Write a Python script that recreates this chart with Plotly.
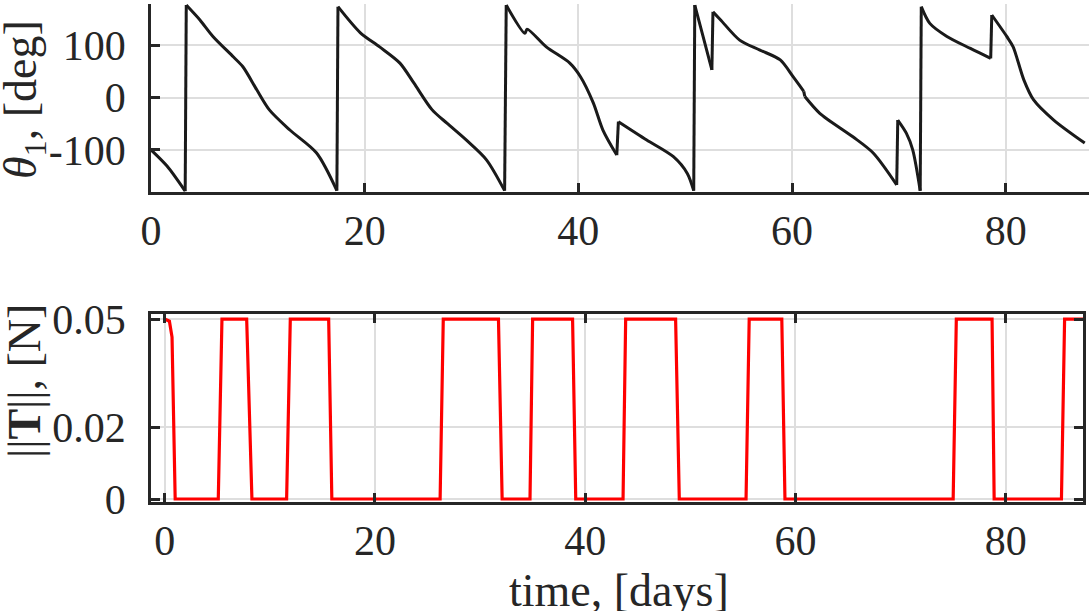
import plotly.graph_objects as go

# ---- data ----
t_theta = [0.0, 1.5, 3.2, 3.3, 4.6, 5.8, 7.7, 8.6, 9.9, 11.1, 13.0, 15.5, 17.4,
           17.5, 19.6, 21.4, 23.3, 24.6, 26.3, 27.7, 29.5, 31.4, 33.1,
           33.25, 35.0, 35.2, 37.0, 39.2, 40.2, 41.4, 42.3, 43.6,
           43.75, 46.4, 48.9, 50.2, 50.8,
           50.9, 51.6, 52.5,
           52.6, 53.3, 55.1, 57.0, 58.9, 60.1, 61.1, 61.2, 62.6, 65.7, 67.6, 69.8,
           69.9, 70.7, 71.3, 72.0,
           72.1, 72.9, 74.5, 76.7, 78.6,
           78.7, 80.1, 80.7, 81.7, 82.6, 84.5, 87.4]
theta = [-100, -131, -179, 177, 148, 117, 78, 59, 15, -24, -62, -106, -178,
         174, 124, 97, 66, 28, -23, -49, -81, -119, -178,
         177, 123, 131, 97, 66, 40, -10, -62, -110,
         -46, -81, -113, -145, -178,
         177, 123, 53,
         164, 149, 110, 91, 72, 40, 12, 2, -30, -75, -106, -167,
         -43, -68, -100, -178,
         174, 142, 117, 94, 75,
         158, 117, 97, 34, -4, -43, -87]

t_thrust = [0.0, 0.45, 0.7, 1.0, 5.1, 5.45, 7.8, 8.3, 11.6, 11.95, 15.6, 15.9,
            26.2, 26.5, 31.75, 32.1, 34.75, 35.0, 38.8, 39.1, 43.6, 43.85,
            48.6, 48.95, 55.3, 55.6, 58.7, 59.0, 75.0, 75.3, 78.7, 78.9,
            85.3, 85.6, 87.4]
thrust = [0.05, 0.0494, 0.045, 0.0, 0.0, 0.05, 0.05, 0.0, 0.0, 0.05, 0.05, 0.0,
          0.0, 0.05, 0.05, 0.0, 0.0, 0.05, 0.05, 0.0, 0.0, 0.05,
          0.05, 0.0, 0.0, 0.05, 0.05, 0.0, 0.0, 0.05, 0.05, 0.0,
          0.0, 0.05, 0.05]

x_ticks = [0, 20, 40, 60, 80]
theta_ticks = [-100, 0, 100]
theta_ticktext = ["-100", "0", "100"]
thrust_ticks = [0, 0.02, 0.05]
thrust_ticktext = ["0", "0.02", "0.05"]

W, H = 1089, 611
FONT = "Liberation Serif"
DARK = "#262626"
GRID = "#dedede"
LINE_DARK = "#1a1a1a"


def px_x(p):
    return p / W


def px_y(p):
    return 1 - p / H


# split the theta curve into continuous branches (jumps are nearly vertical)
segments = []
cur_t, cur_y = [t_theta[0]], [theta[0]]
for i in range(1, len(t_theta)):
    if t_theta[i] - t_theta[i - 1] < 0.2:
        segments.append((cur_t, cur_y))
        cur_t, cur_y = [], []
    cur_t.append(t_theta[i])
    cur_y.append(theta[i])
segments.append((cur_t, cur_y))

fig = go.Figure()
for st, sy in segments:
    fig.add_trace(go.Scatter(x=st, y=sy, mode="lines",
                             line=dict(color=LINE_DARK, width=3, shape="spline",
                                       smoothing=0.8),
                             xaxis="x", yaxis="y", showlegend=False))
# jump connectors between branches
jx, jy = [], []
for a, b in zip(segments[:-1], segments[1:]):
    jx += [a[0][-1], b[0][0], None]
    jy += [a[1][-1], b[1][0], None]
fig.add_trace(go.Scatter(x=jx, y=jy, mode="lines",
                         line=dict(color=LINE_DARK, width=3),
                         xaxis="x", yaxis="y", showlegend=False))

fig.add_trace(go.Scatter(x=t_thrust, y=thrust, mode="lines",
                         line=dict(color="#ff0000", width=3.2),
                         xaxis="x2", yaxis="y2", showlegend=False))

common = dict(ticks="inside", ticklen=9, tickwidth=2.5, tickcolor=DARK,
              showline=True, linewidth=2.5, linecolor=DARK,
              showgrid=True, gridcolor=GRID, gridwidth=2, zeroline=False,
              automargin=False,
              tickfont=dict(family=FONT, size=42, color=DARK))

fig.update_layout(
    template="none",
    width=W, height=H, margin=dict(l=0, r=0, t=0, b=0, pad=0),
    paper_bgcolor="white", plot_bgcolor="white",
    xaxis=dict(domain=[px_x(151), 1.0], range=[0, 87.8], tickvals=x_ticks,
               anchor="y", ticklabelstandoff=0, **common),
    yaxis=dict(domain=[px_y(191.7), px_y(3.5)], range=[-180, 180],
               tickvals=theta_ticks, ticktext=theta_ticktext, anchor="x",
               ticklabelstandoff=14, **common),
    xaxis2=dict(domain=[px_x(151), px_x(1083)], range=[-1.3, 87.35],
                tickvals=x_ticks, anchor="y2", mirror="ticks",
                ticklabelstandoff=0, **common),
    yaxis2=dict(domain=[px_y(501.7), px_y(314)], range=[-0.00075, 0.0514],
                tickvals=thrust_ticks, ticktext=thrust_ticktext, anchor="x2",
                mirror="ticks", ticklabelstandoff=14, **common),
    annotations=[
        dict(text="<i>θ</i><sub>1</sub>, [deg]", textangle=-90,
             x=px_x(24), y=px_y(100), xref="paper", yref="paper",
             showarrow=False, xanchor="center", yanchor="middle",
             font=dict(family=FONT, size=46, color=DARK)),
        dict(text="||<b>T</b>||, [N]", textangle=-90,
             x=px_x(24), y=px_y(381), xref="paper", yref="paper",
             showarrow=False, xanchor="center", yanchor="middle",
             font=dict(family=FONT, size=46, color=DARK)),
        dict(text="time, [days]",
             x=px_x(619), y=px_y(590), xref="paper", yref="paper",
             showarrow=False, xanchor="center", yanchor="middle",
             font=dict(family=FONT, size=46, color=DARK)),
    ],
)

fig.write_html("out.html")
